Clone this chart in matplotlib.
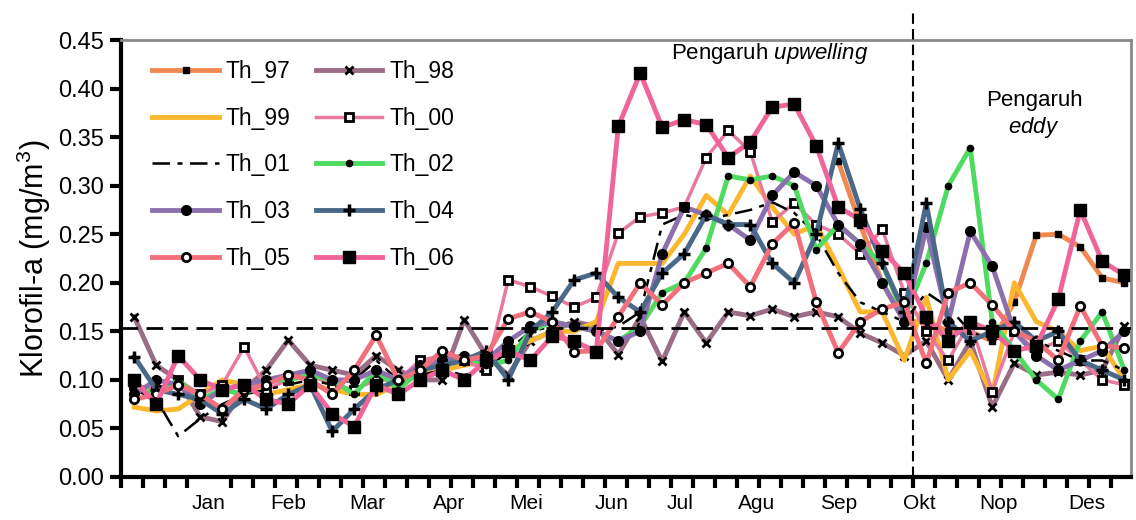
import numpy as np
import matplotlib
matplotlib.use("Agg")
import matplotlib.pyplot as plt

plt.rcParams['font.family'] = ['Liberation Sans', 'DejaVu Sans']
plt.rcParams['mathtext.fontset'] = 'custom'
plt.rcParams['mathtext.rm'] = 'Liberation Sans'
plt.rcParams['mathtext.it'] = 'Liberation Sans:italic'

nan = np.nan

# 46 periode 8-harian dalam setahun
th_97 = [nan] * 32 + [0.325, 0.26, 0.20, 0.16, 0.16, 0.15, 0.15, 0.14, 0.18, 0.249,
                      0.25, 0.237, 0.205, 0.20]
th_98 = [0.165, 0.115, 0.10, 0.062, 0.057, 0.09, 0.11, 0.141, 0.115, 0.11, 0.105, 0.125,
         0.11, 0.10, 0.10, 0.162, 0.125, 0.105, 0.14, 0.15, 0.16, 0.155, 0.126, 0.165,
         0.119, 0.17, 0.138, 0.17, 0.166, 0.173, 0.165, 0.17, 0.165, 0.148, 0.138, 0.125,
         0.14, 0.10, 0.14, 0.072, 0.117, 0.105, 0.108, 0.105, 0.11, 0.155]
th_99 = [0.072, 0.068, 0.07, 0.085, 0.10, 0.095, 0.085, 0.09, 0.095, 0.09, 0.085, 0.085,
         0.095, 0.105, 0.11, 0.115, 0.12, 0.13, 0.14, 0.15, 0.15, 0.16, 0.22, 0.22, 0.22,
         0.25, 0.29, 0.27, 0.31, 0.278, 0.25, 0.26, 0.216, 0.17, 0.17, 0.12, 0.185, 0.10,
         0.13, 0.085, 0.20, 0.16, 0.15, 0.13, 0.135, 0.10]
th_00 = [0.095, 0.09, 0.10, 0.085, 0.095, 0.134, 0.09, 0.10, 0.105, 0.095, 0.09, 0.10,
         0.10, 0.12, 0.125, 0.12, 0.11, 0.203, 0.196, 0.186, 0.175, 0.185, 0.251, 0.268,
         0.272, 0.278, 0.329, 0.357, 0.335, 0.263, 0.282, 0.26, 0.25, 0.23, 0.255, 0.19,
         0.15, 0.12, 0.16, 0.088, 0.15, 0.13, 0.14, 0.12, 0.10, 0.095]
th_01 = [0.09, 0.08, 0.042, 0.06, 0.075, 0.085, 0.09, 0.095, 0.10, 0.095, 0.10, 0.12,
         0.10, 0.105, 0.11, 0.105, 0.11, 0.13, 0.15, 0.155, 0.16, 0.15, 0.155, 0.17, 0.26,
         0.27, 0.265, 0.27, 0.275, 0.283, 0.272, 0.25, 0.21, 0.18, 0.17, 0.16, 0.19, 0.175,
         0.15, 0.14, 0.15, 0.14, 0.13, 0.12, 0.12, 0.11]
th_02 = [0.095, 0.085, 0.10, 0.08, 0.09, 0.085, 0.10, 0.10, 0.105, 0.10, 0.085, 0.11,
         0.09, 0.11, 0.12, 0.125, 0.115, 0.12, 0.15, 0.16, 0.155, 0.15, 0.14, 0.155, 0.19,
         0.20, 0.236, 0.31, 0.306, 0.31, 0.30, 0.234, 0.26, 0.24, 0.22, 0.165, 0.22, 0.30,
         0.339, 0.16, 0.13, 0.10, 0.08, 0.14, 0.17, 0.11]
th_03 = [0.085, 0.10, 0.095, 0.075, 0.09, 0.095, 0.10, 0.105, 0.11, 0.10, 0.10, 0.11,
         0.10, 0.115, 0.12, 0.125, 0.12, 0.14, 0.155, 0.16, 0.155, 0.15, 0.14, 0.15, 0.23,
         0.278, 0.27, 0.26, 0.244, 0.29, 0.314, 0.30, 0.26, 0.24, 0.20, 0.16, 0.257, 0.16,
         0.253, 0.217, 0.15, 0.125, 0.11, 0.12, 0.13, 0.15]
th_04 = [0.124, 0.09, 0.085, 0.08, 0.065, 0.08, 0.07, 0.085, 0.095, 0.047, 0.07, 0.09,
         0.10, 0.11, 0.115, 0.12, 0.13, 0.10, 0.15, 0.17, 0.203, 0.21, 0.185, 0.17, 0.21,
         0.23, 0.27, 0.26, 0.26, 0.22, 0.20, 0.25, 0.344, 0.276, 0.22, 0.17, 0.282, 0.16,
         0.14, 0.15, 0.16, 0.14, 0.15, 0.12, 0.11, 0.10]
th_05 = [0.08, 0.085, 0.095, 0.085, 0.07, 0.09, 0.095, 0.105, 0.10, 0.085, 0.11, 0.146,
         0.10, 0.11, 0.13, 0.12, 0.125, 0.163, 0.17, 0.16, 0.129, 0.13, 0.165, 0.20, 0.177,
         0.20, 0.21, 0.22, 0.196, 0.24, 0.262, 0.18, 0.128, 0.16, 0.173, 0.18, 0.117, 0.19,
         0.20, 0.177, 0.15, 0.14, 0.12, 0.176, 0.135, 0.133]
th_06 = [0.10, 0.075, 0.125, 0.10, 0.09, 0.095, 0.08, 0.075, 0.095, 0.065, 0.052, 0.095,
         0.085, 0.10, 0.11, 0.10, 0.12, 0.13, 0.12, 0.145, 0.14, 0.129, 0.361, 0.416, 0.36,
         0.368, 0.363, 0.329, 0.345, 0.381, 0.384, 0.341, 0.278, 0.265, 0.233, 0.21, 0.165,
         0.14, 0.16, 0.15, 0.13, 0.135, 0.183, 0.275, 0.222, 0.208]

labels = ['Th_97', 'Th_98', 'Th_99', 'Th_00', 'Th_01', 'Th_02', 'Th_03', 'Th_04', 'Th_05', 'Th_06']
bulan = ['Jan', 'Feb', 'Mar', 'Apr', 'Mei', 'Jun', 'Jul', 'Agu', 'Sep', 'Okt', 'Nop', 'Des']
posisi_bulan = [3.4, 7.0, 10.6, 14.3, 17.8, 21.7, 24.8, 28.3, 32.0, 35.7, 39.3, 43.3]

data = [th_97, th_98, th_99, th_00, th_01, th_02, th_03, th_04, th_05, th_06]
gaya = [
    dict(color='#F0894F', marker='s', ms=5, mfc='k', mec='k', lw=3.5),
    dict(color='#9A6E86', marker='x', ms=6, mec='k', mew=2, lw=3.5),
    dict(color='#FBB82E', marker='', lw=3.5),
    dict(color='#E77A9E', marker='s', ms=6, mfc='white', mec='k', mew=2, lw=2.5),
    dict(color='k', marker='', lw=1.8, dashes=(7, 3, 2, 3)),
    dict(color='#4FDB62', marker='o', ms=4.5, mfc='k', mec='k', lw=3.5),
    dict(color='#8C70AE', marker='o', ms=7, mfc='k', mec='k', lw=3.5),
    dict(color='#4A6888', marker='+', ms=8, mec='k', mew=2.5, lw=3.5),
    dict(color='#F2707C', marker='o', ms=6, mfc='white', mec='k', mew=2, lw=3.5),
    dict(color='#F0649A', marker='s', ms=8, mfc='k', mec='k', lw=3.5),
]

fig = plt.figure(figsize=(11.36, 5.2), dpi=100)
ax = fig.add_axes([0.1065, 0.0827, 0.889, 0.8403])

x = np.arange(46)
garis = []
for y, lab, g in zip(data, labels, gaya):
    garis += ax.plot(x, y, label=lab, **g)

ax.axhline(0.153, color='k', lw=2, dashes=(6, 3), zorder=5)
ax.axvline(35.4, ymin=0, ymax=1.07, color='k', lw=1.5, dashes=(5, 2.5), clip_on=False, zorder=5)

ax.set_xlim(-0.6, 45.3)
ax.set_ylim(0, 0.45)
ax.set_yticks(np.arange(0, 0.451, 0.05))
ax.set_yticklabels(['%.2f' % v for v in np.arange(0, 0.451, 0.05)], fontsize=17)
ax.set_xticks(posisi_bulan)
ax.set_xticklabels(bulan, fontsize=15)
ax.set_xticks(np.arange(46) - 0.6, minor=True)
ax.tick_params(axis='x', which='major', length=0, pad=12)
ax.tick_params(axis='x', which='minor', length=8, width=3, direction='out')
ax.tick_params(axis='y', length=8, width=3, direction='out', pad=4)

for s in ['left', 'bottom']:
    ax.spines[s].set_linewidth(3)
for s in ['top', 'right']:
    ax.spines[s].set_color('#8a8a8a')
    ax.spines[s].set_linewidth(2)

ax.set_ylabel('Klorofil-a (mg/m$^3$)', fontsize=22, labelpad=4)

ax.text(28.9, 0.436, r'Pengaruh $\mathit{upwelling}$', fontsize=16, ha='center', va='center')
ax.text(40.9, 0.388, 'Pengaruh', fontsize=16, ha='center', va='center')
ax.text(40.9, 0.360, r'$\mathit{eddy}$', fontsize=16, ha='center', va='center')

# urutan legenda per baris: kolom kiri tahun ganjil, kolom kanan tahun genap
urut = [0, 2, 4, 6, 8, 1, 3, 5, 7, 9]
ax.legend([garis[k] for k in urut], [labels[k] for k in urut],
          loc='upper left', bbox_to_anchor=(0.031, 0.955), ncol=2, frameon=False,
          fontsize=16.5, handlelength=2.9, handletextpad=0.3, columnspacing=1.1,
          labelspacing=1.04, borderaxespad=0, borderpad=0)

fig.savefig('out.png', dpi=100)
